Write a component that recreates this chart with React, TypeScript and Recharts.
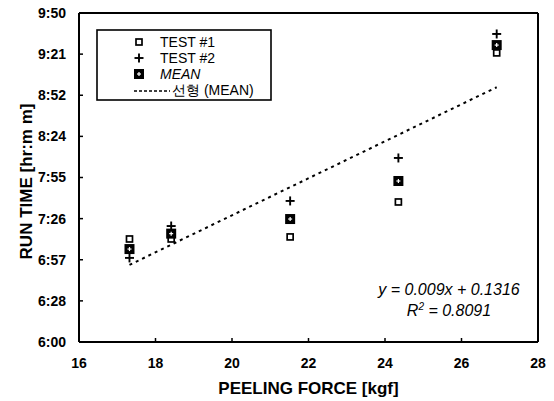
import {
  Legend,
  ReferenceLine,
  Scatter,
  ScatterChart,
  XAxis,
  YAxis,
} from 'recharts'

// peeling force [kgf] for each run group
const force = [17.32, 18.41, 21.52, 24.35, 26.92]
// run time as fraction of a day (0.25 = 6:00)
const test1 = [0.3001, 0.3001, 0.3011, 0.3181, 0.3906]
const test2 = [0.2909, 0.3064, 0.3186, 0.3395, 0.3998]
const mean = [0.2952, 0.3027, 0.3098, 0.3283, 0.3944]
// linear fit (MEAN) end points
const trendX = [17.32, 26.92]
const trendY = [0.2875, 0.3739]

const xTicks = [16, 18, 20, 22, 24, 26, 28]
const yTicks = [0.25, 0.27, 0.29, 0.31, 0.33, 0.35, 0.37, 0.39, 0.41]
const yTickLabels = ['6:00', '6:28', '6:57', '7:26', '7:55', '8:24', '8:52', '9:21', '9:50']

const FONT = '"Liberation Sans Narrow", "Arial Narrow", "Liberation Sans", Arial, sans-serif'
const FONT_WIDE = '"Liberation Sans", Arial, sans-serif'

const toPts = (ys: number[]) => force.map((x, i) => ({ x, y: ys[i] }))
const test1Data = toPts(test1)
const test2Data = toPts(test2)
const meanData = toPts(mean)
const trendData = trendX.map((x, i) => ({ x, y: trendY[i] }))

const fmtY = (v: number) => {
  const i = yTicks.findIndex((t) => Math.abs(t - v) < 1e-6)
  return i >= 0 ? yTickLabels[i] : ''
}

function OpenSquare({ cx, cy }: { cx?: number; cy?: number }) {
  if (cx == null || cy == null) return <g />
  return <rect x={cx - 3} y={cy - 3} width={6} height={6} fill="#fff" stroke="#000" strokeWidth={1.7} />
}

function Plus({ cx, cy }: { cx?: number; cy?: number }) {
  if (cx == null || cy == null) return <g />
  return (
    <g stroke="#000" strokeWidth={1.9}>
      <line x1={cx - 4.5} y1={cy} x2={cx + 4.5} y2={cy} />
      <line x1={cx} y1={cy - 4.5} x2={cx} y2={cy + 4.5} />
    </g>
  )
}

function MeanBox({ cx, cy }: { cx?: number; cy?: number }) {
  if (cx == null || cy == null) return <g />
  return (
    <g>
      <rect x={cx - 5} y={cy - 5} width={10} height={10} fill="#000" />
      <line x1={cx - 2} y1={cy} x2={cx + 2} y2={cy} stroke="#fff" strokeWidth={1.2} />
      <line x1={cx} y1={cy - 2} x2={cx} y2={cy + 2} stroke="#fff" strokeWidth={1.2} />
    </g>
  )
}

function LegendBox() {
  const rows = [13, 29, 45, 61]
  return (
    <svg width={176} height={72} style={{ display: 'block' }}>
      <rect x={1} y={1} width={174} height={70} fill="#fff" stroke="#000" strokeWidth={1.6} />
      <OpenSquare cx={43} cy={rows[0]} />
      <Plus cx={43} cy={rows[1]} />
      <MeanBox cx={43} cy={rows[2]} />
      <line x1={38} y1={rows[3] + 1} x2={74} y2={rows[3] + 1} stroke="#000" strokeWidth={1.5} strokeDasharray="3 2" />
      <g fontFamily={FONT_WIDE} fontSize={14} fill="#000">
        <text x={64} y={rows[0] + 5}>TEST #1</text>
        <text x={64} y={rows[1] + 5}>TEST #2</text>
        <text x={64} y={rows[2] + 5} fontStyle="italic">MEAN</text>
        <text x={76} y={rows[3] + 5}>선형 (MEAN)</text>
      </g>
    </svg>
  )
}

export default function App() {
  return (
    <div style={{ position: 'absolute', left: 0, top: 0, width: 554, height: 401, background: '#fff' }}>
      <ScatterChart width={554} height={401} margin={{ top: 13, right: 16, bottom: 0, left: 0 }}>
        <XAxis
          type="number"
          dataKey="x"
          domain={[16, 28]}
          ticks={xTicks}
          height={59}
          tickSize={-4}
          tickMargin={20}
          axisLine={{ stroke: '#000', strokeWidth: 2 }}
          tickLine={{ stroke: '#000', strokeWidth: 1.5 }}
          tick={{ fill: '#000', fontSize: 14, fontWeight: 700, fontFamily: FONT }}
          label={{
            value: 'PEELING FORCE [kgf]',
            position: 'insideBottom',
            offset: 7,
            fill: '#000',
            fontSize: 17,
            fontWeight: 700,
            fontFamily: FONT_WIDE,
          }}
        />
        <YAxis
          type="number"
          dataKey="y"
          domain={[0.25, 0.41]}
          ticks={yTicks}
          width={79}
          tickSize={-4}
          tickMargin={17}
          tickFormatter={fmtY}
          axisLine={{ stroke: '#000', strokeWidth: 2 }}
          tickLine={{ stroke: '#000', strokeWidth: 1.5 }}
          tick={{ fill: '#000', fontSize: 14, fontWeight: 700, fontFamily: FONT }}
          label={{
            value: 'RUN TIME [hr:m m]',
            angle: -90,
            position: 'center',
            dx: -14,
            dy: 4,
            fill: '#000',
            fontSize: 17,
            fontWeight: 700,
            fontFamily: FONT_WIDE,
          }}
        />
        <ReferenceLine y={0.41} stroke="#000" strokeWidth={2} />
        <ReferenceLine x={28} stroke="#000" strokeWidth={2} />
        <Legend
          layout="horizontal"
          verticalAlign="middle"
          align="center"
          content={() => <LegendBox />}
          wrapperStyle={{ left: 96, top: 29, width: 176, height: 72 }}
        />
        <Scatter
          name="선형 (MEAN)"
          data={trendData}
          line={{ stroke: '#000', strokeWidth: 2, strokeDasharray: '3 4' }}
          lineType="joint"
          shape={() => <g />}
          isAnimationActive={false}
        />
        <Scatter name="TEST #1" data={test1Data} shape={OpenSquare} isAnimationActive={false} />
        <Scatter name="TEST #2" data={test2Data} shape={Plus} isAnimationActive={false} />
        <Scatter name="MEAN" data={meanData} shape={MeanBox} isAnimationActive={false} />
      </ScatterChart>
      <div
        style={{
          position: 'absolute',
          left: 349,
          top: 279,
          width: 200,
          textAlign: 'center',
          fontFamily: FONT_WIDE,
          fontStyle: 'italic',
          fontSize: 16,
          lineHeight: '21px',
          color: '#000',
        }}
      >
        <div>y = 0.009x + 0.1316</div>
        <div>
          R<sup style={{ fontSize: 10, lineHeight: 0 }}>2</sup> = 0.8091
        </div>
      </div>
    </div>
  )
}
